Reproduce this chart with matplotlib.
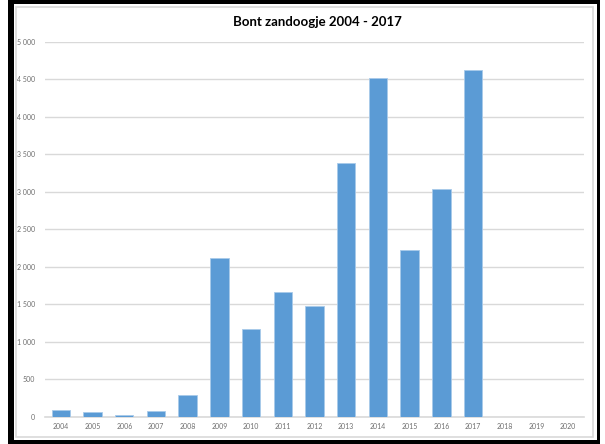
import matplotlib
matplotlib.use("Agg")
import matplotlib.pyplot as plt
from matplotlib.patches import Rectangle
from matplotlib.ticker import FuncFormatter

years = [str(y) for y in range(2004, 2021)]
values = [87, 60, 24, 73, 291, 2120, 1170, 1665, 1475, 3385, 4525, 2222, 3041, 4632, 0, 0, 0]
yticks = [0, 500, 1000, 1500, 2000, 2500, 3000, 3500, 4000, 4500, 5000]
title = "Bont zandoogje 2004 - 2017"

plt.rcParams['font.family'] = ['Lato', 'DejaVu Sans']

W, H = 605, 444
fig = plt.figure(figsize=(W / 100, H / 100), dpi=100)
fig.patch.set_facecolor('white')

def px_rect(x0, y0, x1, y1, **kw):
    fig.patches.append(Rectangle((x0 / W, 1 - y1 / H), (x1 - x0) / W, (y1 - y0) / H,
                                 transform=fig.transFigure, figure=fig, **kw))

# black outer frame
px_rect(8, 0, 600, 4, color='black', lw=0)
px_rect(8, 440, 600, 444, color='black', lw=0)
px_rect(8, 0, 14, 444, color='black', lw=0)
px_rect(597, 0, 600, 444, color='black', lw=0)
# light grey inner frame
px_rect(16, 7, 593, 437, fill=False, edgecolor='#D9D9D9', lw=1.2)

ax = fig.add_axes([45 / W, 1 - 416.5 / H, (584 - 45) / W, (416.5 - 42) / H])
x = list(range(len(years)))
ax.bar(x, values, width=0.58, color='#5B9BD5', edgecolor='#A8CAEA', linewidth=0.6, zorder=3)
ax.set_xlim(-0.5, len(years) - 0.5)
ax.set_ylim(0, 5000)
ax.set_yticks(yticks)
ax.yaxis.set_major_formatter(FuncFormatter(lambda v, p: f"{int(v):,}".replace(",", " ")))
ax.set_xticks(x)
ax.set_xticklabels(years)
ax.tick_params(axis='both', length=0, labelsize=5, colors='#6E6E6E')
ax.tick_params(axis='y', pad=7)
ax.tick_params(axis='x', pad=5)
ax.grid(axis='y', color='#D9D9D9', linewidth=1.0, zorder=0)
for s in ['top', 'right', 'left']:
    ax.spines[s].set_visible(False)
ax.spines['bottom'].set_color('#D9D9D9')
ax.spines['bottom'].set_linewidth(1.2)
ax.set_axisbelow(True)

fig.text(317 / W, 1 - 22 / H, title, ha='center', va='center', fontsize=9.5,
         fontweight='bold', color='black')

fig.savefig('out.png', dpi=100, facecolor='white')
